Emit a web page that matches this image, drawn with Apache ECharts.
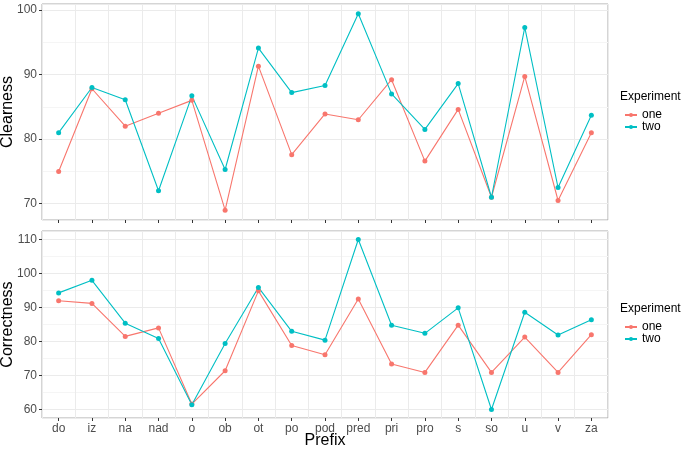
<!DOCTYPE html>
<html><head><meta charset="utf-8">
<script src="https://cdn.jsdelivr.net/npm/echarts@6/dist/echarts.min.js"></script>
<style>html,body{margin:0;padding:0;background:#fff}#c{width:685px;height:449px}</style>
</head><body><div id="c"></div>
<script>
var prefixes = ['do','iz','na','nad','o','ob','ot','po','pod','pred','pri','pro','s','so','u','v','za'];
var clearnessOne = [75.0, 87.8, 82.0, 84.0, 86.0, 69.0, 91.3, 77.6, 83.9, 83.0, 89.2, 76.6, 84.6, 71.0, 89.7, 70.5, 81.0];
var clearnessTwo = [81.0, 88.0, 86.1, 72.0, 86.7, 75.3, 94.1, 87.2, 88.3, 99.4, 87.0, 81.5, 88.6, 71.0, 97.3, 72.5, 83.7];
var correctnessOne = [92.0, 91.2, 81.5, 84.0, 61.6, 71.4, 94.9, 78.8, 76.1, 92.5, 73.4, 70.9, 84.8, 70.9, 81.3, 70.9, 82.0];
var correctnessTwo = [94.3, 98.0, 85.4, 80.9, 61.4, 79.4, 95.9, 83.0, 80.4, 110.0, 84.8, 82.4, 89.9, 60.0, 88.6, 81.9, 86.4];

var colOne = '#F8766D', colTwo = '#00BFC4';
function ext(a, b) {
  var all = a.concat(b);
  var mn = Math.min.apply(null, all), mx = Math.max.apply(null, all);
  var r = mx - mn;
  return [mn - 0.05 * r, mx + 0.05 * r];
}
var e1 = ext(clearnessOne, clearnessTwo);
var e2 = ext(correctnessOne, correctnessTwo);
var font = 'Liberation Sans, Arial, sans-serif';

function xAxis(gi, labels) {
  return {
    type: 'category', gridIndex: gi, data: prefixes, boundaryGap: true,
    axisLine: { show: false },
    axisTick: { show: true, alignWithLabel: true, length: 3, lineStyle: { color: '#333' } },
    axisLabel: { show: labels, color: '#4D4D4D', fontSize: 12, fontFamily: font, margin: 5 },
    splitLine: { show: true, lineStyle: { color: '#EBEBEB', width: 1 } },
    name: labels ? 'Prefix' : '', nameLocation: 'middle', nameGap: 15, nameMoveOverlap: false,
    nameTextStyle: { color: '#000', fontSize: 16, fontFamily: font, verticalAlign: 'top' }
  };
}
function yAxis(gi, e, name, split) {
  return {
    type: 'value', gridIndex: gi, min: e[0], max: e[1], splitNumber: split,
    axisLine: { show: false },
    axisTick: { show: true, length: 3, lineStyle: { color: '#333' } },
    axisLabel: { color: '#4D4D4D', fontSize: 12, fontFamily: font, margin: 5, showMinLabel: false, showMaxLabel: false },
    splitLine: { show: true, lineStyle: { color: '#EBEBEB', width: 1 } },
    minorTick: { show: false, splitNumber: 2 },
    minorSplitLine: { show: true, lineStyle: { color: '#F5F5F5', width: 1 } },
    name: name, nameLocation: 'middle', nameGap: 26, nameMoveOverlap: false,
    nameTextStyle: { color: '#000', fontSize: 16, fontFamily: font }
  };
}
function ser(name, data, col, gi) {
  return {
    type: 'line', name: name, xAxisIndex: gi, yAxisIndex: gi, data: data,
    symbol: 'circle', symbolSize: 5, showSymbol: true,
    lineStyle: { color: col, width: 1.1 }, itemStyle: { color: col },
    emphasis: { disabled: true }, animation: false
  };
}
function legend(top) {
  return { data: ['one', 'two'], orient: 'vertical', left: 624, top: top, padding: 0, itemWidth: 12, itemHeight: 5, itemGap: 0,
    textStyle: { fontSize: 12, color: '#000', fontFamily: font, padding: [0, 0, 0, 0] }, selectedMode: false };
}
var chart = echarts.init(document.getElementById('c'), null, { renderer: 'canvas' });
chart.setOption({
  animation: false,
  backgroundColor: '#fff',
  grid: [
    { left: 42, top: 4, width: 566, height: 216, show: true, borderColor: '#AAAAAA', borderWidth: 1, containLabel: false, outerBoundsMode: 'none' },
    { left: 42, top: 231, width: 566, height: 187, show: true, borderColor: '#AAAAAA', borderWidth: 1, containLabel: false, outerBoundsMode: 'none' }
  ],
  xAxis: [xAxis(0, false), xAxis(1, true)],
  yAxis: [yAxis(0, e1, 'Clearness', 3), yAxis(1, e2, 'Correctness', 5)],
  title: [
    { text: 'Experiment', left: 620, top: 91, padding: 0, textStyle: { fontSize: 12, fontWeight: 'normal', color: '#000', fontFamily: font } },
    { text: 'Experiment', left: 620, top: 303, padding: 0, textStyle: { fontSize: 12, fontWeight: 'normal', color: '#000', fontFamily: font } }
  ],
  legend: [legend(109), legend(321)],
  series: [
    ser('one', clearnessOne, colOne, 0),
    ser('two', clearnessTwo, colTwo, 0),
    ser('one', correctnessOne, colOne, 1),
    ser('two', correctnessTwo, colTwo, 1)
  ]
});
</script></body></html>
